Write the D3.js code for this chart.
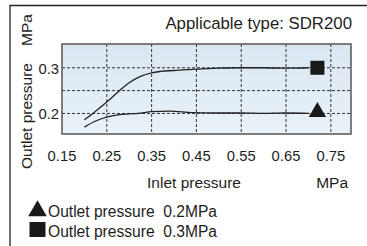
<!DOCTYPE html>
<html><head><meta charset="utf-8">
<script src="https://cdn.jsdelivr.net/npm/d3@7"></script>
<style>
html,body{margin:0;padding:0;background:#fff;}
svg{display:block;font-family:"Liberation Sans",Arial,sans-serif;}
</style></head>
<body>
<script>
// Data
const xTicks = [0.15, 0.25, 0.35, 0.45, 0.55, 0.65, 0.75];
const xGrid = [0.25, 0.35, 0.45, 0.55, 0.65, 0.75];
const yTicks = [0.2, 0.3];
const yGrid = [0.2, 0.25, 0.3];
const inlet03 = [0.20,0.225,0.25,0.275,0.30,0.325,0.35,0.37,0.40,0.45,0.50,0.55,0.60,0.65,0.70];
const outlet03 = [0.186,0.205,0.225,0.247,0.267,0.281,0.289,0.292,0.294,0.297,0.299,0.300,0.300,0.299,0.300];
const inlet02 = [0.20,0.225,0.25,0.275,0.30,0.32,0.35,0.39,0.44,0.50,0.55,0.60,0.65,0.70];
const outlet02 = [0.170,0.1835,0.192,0.197,0.199,0.200,0.204,0.205,0.202,0.201,0.201,0.200,0.201,0.200];
const markerX = 0.72;
const setPoints = [0.2, 0.3];
const legendLabels = ["Outlet pressure  0.2MPa", "Outlet pressure  0.3MPa"];

const W = 367, H = 246;
const L = 62, R = 351, T = 44, B = 134;
const svg = d3.select("body").append("svg").attr("width", W).attr("height", H);

const x = d3.scaleLinear().domain([0.15, 0.795]).range([L, R]);
const y = d3.scaleLinear().domain([0.155, 0.352]).range([B, T]);

// outer frame (top + left)
svg.append("path").attr("d", `M10,${H} L10,5.5 L${W},5.5`).attr("fill","none").attr("stroke","#222").attr("stroke-width",1.3);

// plot bg
const defs = svg.append("defs");
const g = defs.append("linearGradient").attr("id","bg").attr("x1",0).attr("y1",0).attr("x2",0).attr("y2",1);
g.append("stop").attr("offset","0%").attr("stop-color","#d9e6f1");
g.append("stop").attr("offset","100%").attr("stop-color","#eaf2f8");
svg.append("rect").attr("x",L).attr("y",T).attr("width",R-L).attr("height",B-T).attr("fill","url(#bg)");

// grid
svg.append("g").selectAll("line").data(yGrid).join("line")
  .attr("x1",L).attr("x2",R).attr("y1",d=>y(d)).attr("y2",d=>y(d))
  .attr("stroke","#333").attr("stroke-width",1).attr("stroke-dasharray","3,2");
svg.append("g").selectAll("line").data(xGrid).join("line")
  .attr("x1",d=>x(d)).attr("x2",d=>x(d)).attr("y1",T).attr("y2",B)
  .attr("stroke","#333").attr("stroke-width",1).attr("stroke-dasharray","3,2");

// border
svg.append("rect").attr("x",L).attr("y",T).attr("width",R-L).attr("height",B-T)
  .attr("fill","none").attr("stroke","#555").attr("stroke-width",1.5);

// lines
const line = d3.line().x(d=>x(d[0])).y(d=>y(d[1])).curve(d3.curveMonotoneX);
svg.append("path").datum(inlet03.map((v,i)=>[v,outlet03[i]])).attr("d",line)
  .attr("fill","none").attr("stroke","#222").attr("stroke-width",1.3);
svg.append("path").datum(inlet02.map((v,i)=>[v,outlet02[i]])).attr("d",line)
  .attr("fill","none").attr("stroke","#222").attr("stroke-width",1.3);

// markers
const sq = 14;
svg.append("rect").attr("x",x(markerX)-sq/2).attr("y",y(setPoints[1])-sq/2).attr("width",sq).attr("height",sq).attr("fill","#1a1a1a");
const tri = d3.symbol().type(d3.symbolTriangle).size(130);
svg.append("path").attr("d",tri()).attr("transform",`translate(${x(markerX)},${y(setPoints[0])-1.5})`).attr("fill","#1a1a1a");

// axis labels
svg.append("g").selectAll("text").data(xTicks).join("text")
  .attr("x",d=>x(d)).attr("y",161).attr("text-anchor","middle")
  .attr("font-size",14.8).attr("fill","#1e1e1e").text(d=>d.toFixed(2));
svg.append("g").selectAll("text").data(yTicks).join("text")
  .attr("x",59).attr("y",d=>y(d)+6).attr("text-anchor","end")
  .attr("font-size",14.8).attr("fill","#1e1e1e").text(d=>d.toFixed(1));

svg.append("text").attr("x",194).attr("y",188).attr("text-anchor","middle").attr("font-size",15.5).attr("fill","#1e1e1e").text("Inlet pressure");
svg.append("text").attr("x",348).attr("y",188).attr("text-anchor","end").attr("font-size",15.5).attr("fill","#1e1e1e").text("MPa");

svg.append("text").attr("transform","translate(31.5,116) rotate(-90)").attr("text-anchor","middle").attr("font-size",15.5).attr("fill","#1e1e1e").text("Outlet pressure");
svg.append("text").attr("transform","translate(31.5,30) rotate(-90)").attr("text-anchor","middle").attr("font-size",15.5).attr("fill","#1e1e1e").text("MPa");

svg.append("text").attr("x",352).attr("y",29).attr("text-anchor","end").attr("font-size",16.8).attr("fill","#1e1e1e").text("Applicable type: SDR200");

// legend
const lg = svg.append("g");
lg.append("path").attr("d",d3.symbol().type(d3.symbolTriangle).size(150)()).attr("transform","translate(37.5,211)").attr("fill","#1a1a1a");
lg.append("rect").attr("x",29.5).attr("y",222).attr("width",16).attr("height",15).attr("fill","#1a1a1a");
lg.selectAll("text").data(legendLabels).join("text")
  .attr("x",48).attr("y",(d,i)=>217+i*20).attr("font-size",15.6).attr("fill","#1e1e1e")
  .style("white-space","pre").text(d=>d);
</script>
</body></html>
